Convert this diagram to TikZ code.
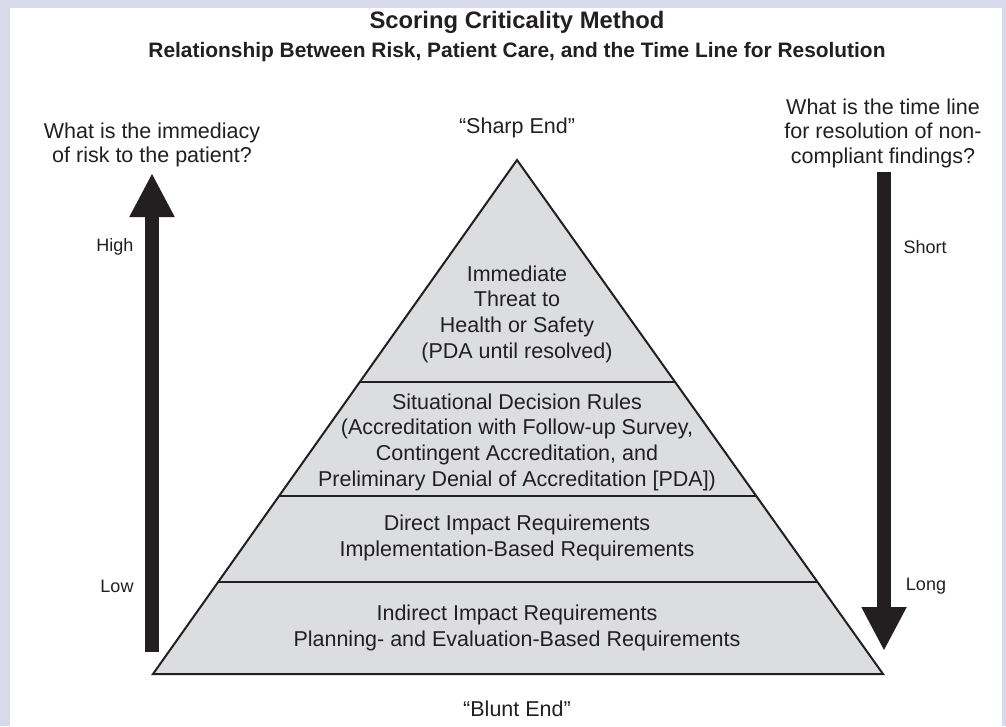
\documentclass[tikz,border=0pt]{standalone}
\usepackage{fontspec}
\setmainfont{Liberation Sans}
\usetikzlibrary{positioning,arrows.meta,calc}
\definecolor{framelav}{RGB}{216,218,235}
\definecolor{inkdark}{RGB}{35,31,32}
\definecolor{tierfill}{RGB}{220,221,223}
\tikzset{
  titletext/.style={font=\fontsize{23.8}{28}\selectfont\bfseries, text=inkdark},
  subtitletext/.style={font=\fontsize{20.9}{25}\selectfont\bfseries, text=inkdark},
  questiontext/.style={font=\fontsize{21.5}{24.5}\selectfont, align=center, text=inkdark},
  tiertext/.style={font=\fontsize{21.5}{25.7}\selectfont, align=center, text=inkdark},
  scaletext/.style={font=\fontsize{18}{21}\selectfont, text=inkdark},
  tierline/.style={draw=inkdark, line width=2.2pt},
  bigarrow/.style={draw=inkdark, line width=14pt, -{Triangle[length=44pt,width=42pt]}}
}

\begin{document}
\begin{tikzpicture}[x=1pt, y=-1pt]
  % Frame
  \fill[framelav] (0,0) rectangle (1006,726);
  \fill[white] (10,8) rectangle (1002,726);
  \useasboundingbox (0,0) rectangle (1006,726);

  % Headings
  \node[titletext] (title) at (517,22) {Scoring Criticality Method};
  \node[subtitletext] (subtitle) at (517,52)
        {Relationship Between Risk, Patient Care, and the Time Line for Resolution};

  % Pyramid corners and tier boundaries
  \coordinate (apex) at (517,160);
  \coordinate (bl) at (153,674);
  \coordinate (br) at (883,674);
  \coordinate (l1) at ($(apex)!0.4319!(bl)$);
  \coordinate (r1) at ($(apex)!0.4319!(br)$);
  \coordinate (l2) at ($(apex)!0.6537!(bl)$);
  \coordinate (r2) at ($(apex)!0.6537!(br)$);
  \coordinate (l3) at ($(apex)!0.8210!(bl)$);
  \coordinate (r3) at ($(apex)!0.8210!(br)$);

  \fill[tierfill] (apex) -- (bl) -- (br) -- cycle;
  \draw[tierline] (l1) -- (r1);
  \draw[tierline] (l2) -- (r2);
  \draw[tierline] (l3) -- (r3);
  \draw[tierline, line width=2pt, line join=miter] (apex) -- (bl) -- (br) -- cycle;

  % Tier texts
  \node[tiertext] (threat) at (517,314)
        {Immediate\\Threat to\\Health or Safety\\(PDA until resolved)};
  \node[tiertext] (rules) at (517,442)
        {Situational Decision Rules\\(Accreditation with Follow-up Survey,\\Contingent Accreditation, and\\Preliminary Denial of Accreditation [PDA])};
  \node[tiertext] (direct) at (517,538)
        {Direct Impact Requirements\\Implementation-Based Requirements};
  \node[tiertext] (indirect) at (517,628)
        {Indirect Impact Requirements\\Planning- and Evaluation-Based Requirements};

  \node[tiertext] (sharp) at (517,128) {“Sharp End”};
  \node[tiertext] (blunt) at (517,709) {“Blunt End”};

  % Risk arrow (left)
  \node[questiontext] (riskq) at (152,145)
        {What is the immediacy\\of risk to the patient?};
  \coordinate (riskbot) at (152,652);
  \coordinate (risktip) at (152,173);
  \draw[bigarrow] (riskbot) -- (risktip);
  \node[scaletext] (high) at (115,247) {High};
  \node[scaletext] (low) at (117,586) {Low};

  % Time line arrow (right)
  \node[questiontext] (timeq) at (883,133)
        {What is the time line\\for resolution of non-\\compliant findings?};
  \coordinate (timetop) at (884,172);
  \coordinate (timetip) at (884,651);
  \draw[bigarrow] (timetop) -- (timetip);
  \node[scaletext] (short) at (925,247) {Short};
  \node[scaletext] (long) at (926,586) {Long};
\end{tikzpicture}
\end{document}
